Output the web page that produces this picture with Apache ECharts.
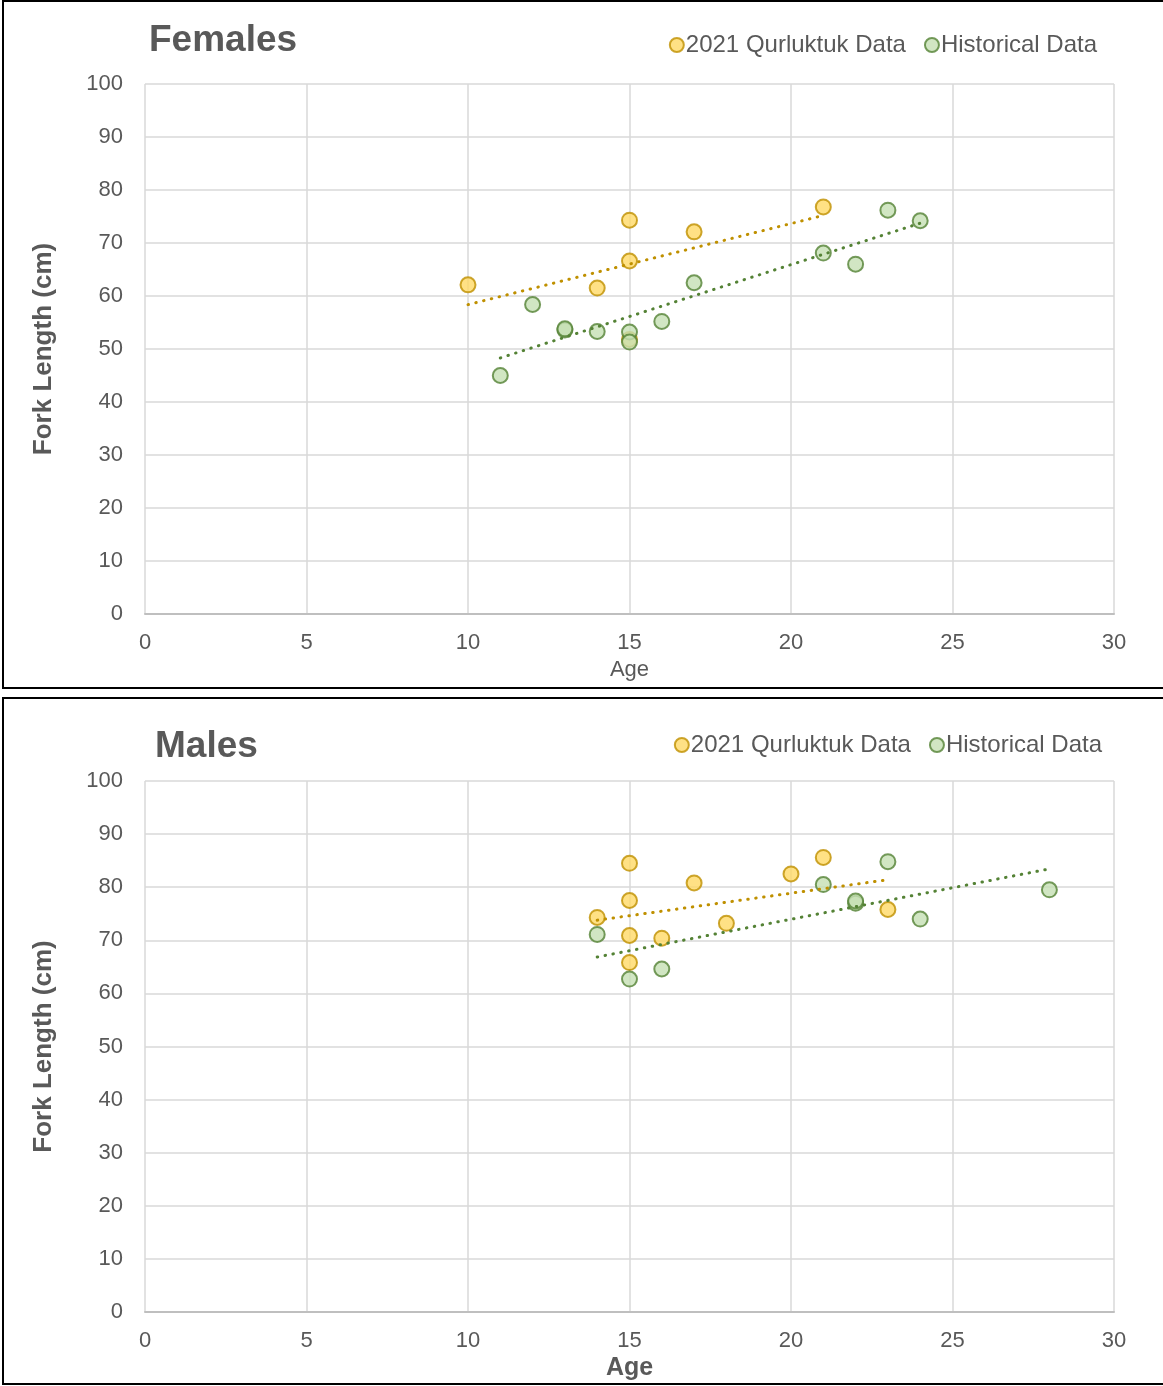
<!DOCTYPE html>
<html>
<head>
<meta charset="utf-8">
<script src="https://cdn.jsdelivr.net/npm/echarts@6/dist/echarts.min.js"></script>
<style>
  html, body { margin: 0; padding: 0; background: #fff; }
  #main { width: 1163px; height: 1386px; }
</style>
</head>
<body>
<div id="main"></div>
<script>
// Females
const femQurAge = [10, 14, 15, 15, 15, 17, 21]
const femQurLen = [62.1, 61.5, 74.3, 66.6, 51.8, 72.1, 76.8]
const femHistAge = [11, 12, 13, 13, 14, 15, 15, 16, 17, 21, 22, 23, 24]
const femHistLen = [45.0, 58.4, 53.6, 53.8, 53.3, 53.2, 51.3, 55.2, 62.5, 68.1, 66.0, 76.2, 74.2]
// Males
const maleQurAge = [14, 15, 15, 15, 15, 16, 17, 18, 20, 21, 23]
const maleQurLen = [74.3, 84.5, 77.5, 70.9, 65.8, 70.4, 80.8, 73.2, 82.5, 85.6, 75.8]
const maleHistAge = [14, 15, 16, 21, 22, 22, 23, 24, 28]
const maleHistLen = [71.1, 62.7, 64.6, 80.5, 77.0, 77.4, 84.8, 74.0, 79.5]

const ageTicks = [0, 5, 10, 15, 20, 25, 30]
const lenTicks = [0, 10, 20, 30, 40, 50, 60, 70, 80, 90, 100]

const QUR = '2021 Qurluktuk Data'
const HIST = 'Historical Data'
const TXT = '#595959'
const FONT = 'Liberation Sans'

const pairs = (xs, ys) => xs.map((x, i) => [x, ys[i]])

// linear least-squares trendline, spanning the series' age range
const trend = (xs, ys) => {
  const n = xs.length
  const mx = xs.reduce((a, b) => a + b, 0) / n
  const my = ys.reduce((a, b) => a + b, 0) / n
  let sxy = 0, sxx = 0
  xs.forEach((x, i) => { sxy += (x - mx) * (ys[i] - my); sxx += (x - mx) * (x - mx) })
  const b = sxy / sxx
  const a = my - b * mx
  const x0 = Math.min(...xs), x1 = Math.max(...xs)
  return [[x0, a + b * x0], [x1, a + b * x1]]
}

const qurStyle = { color: '#FFD966', borderColor: '#BF9000', borderWidth: 2 }
const histStyle = { color: '#C5E0B4', borderColor: '#548235', borderWidth: 2 }

const scatter = (name, idx, data, style) => ({
  name, type: 'scatter', xAxisIndex: idx, yAxisIndex: idx,
  data, symbolSize: 15, itemStyle: style, z: 3, silent: true
})
const trendLine = (name, idx, data, color) => ({
  name, type: 'line', xAxisIndex: idx, yAxisIndex: idx,
  data, showSymbol: false, symbol: 'none', z: 4, silent: true,
  lineStyle: { color, width: 3, type: [0.5, 7.5], cap: 'round' }
})

const xAxis = (idx, nameSize, bold, gap) => ({
  type: 'value', gridIndex: idx, min: 0, max: 30, interval: 5,
  name: 'Age', nameLocation: 'middle', nameGap: gap,
  nameTextStyle: { color: TXT, fontSize: nameSize, fontWeight: bold ? 'bold' : 'normal', fontFamily: FONT },
  axisLine: { show: true, lineStyle: { color: '#BFBFBF', width: 2 } },
  axisTick: { show: false },
  axisLabel: { color: TXT, fontSize: 22, margin: 18, fontFamily: FONT },
  splitLine: { show: true, lineStyle: { color: '#D9D9D9', width: 1.5 } }
})
const yAxis = (idx) => ({
  type: 'value', gridIndex: idx, min: 0, max: 100, interval: 10,
  name: 'Fork Length (cm)', nameLocation: 'middle', nameGap: 88,
  nameTextStyle: { color: TXT, fontSize: 26, fontWeight: 'bold', fontFamily: FONT },
  axisLine: { show: false }, axisTick: { show: false },
  axisLabel: { color: TXT, fontSize: 22, margin: 22, fontFamily: FONT },
  splitLine: { show: true, lineStyle: { color: '#D9D9D9', width: 1.5 } }
})
const legend = (right, top) => ({
  data: [QUR, HIST], right, top, padding: 0, itemWidth: 14, itemHeight: 14, itemGap: 18, icon: 'circle',
  textStyle: { color: TXT, fontSize: 24, fontFamily: FONT, padding: [0, 0, 0, -3] }, selectedMode: false
})

const chart = echarts.init(document.getElementById('main'))
chart.setOption({
  animation: false,
  backgroundColor: '#fff',
  textStyle: { fontFamily: FONT },
  title: [
    { text: 'Females', left: 144, top: 17, textStyle: { color: TXT, fontSize: 37, fontWeight: 'bold', fontFamily: FONT } },
    { text: 'Males', left: 150, top: 723, textStyle: { color: TXT, fontSize: 37, fontWeight: 'bold', fontFamily: FONT } }
  ],
  legend: [legend(66, 33), legend(61, 733)],
  grid: [
    { left: 145, top: 84, width: 969, height: 530 },
    { left: 145, top: 781, width: 969, height: 531 }
  ],
  xAxis: [xAxis(0, 22, false, 45), xAxis(1, 25, true, 44)],
  yAxis: [yAxis(0), yAxis(1)],
  graphic: [
    { type: 'rect', shape: { x: 3, y: 1, width: 1200, height: 687 }, style: { fill: null, stroke: '#000', lineWidth: 2 }, silent: true },
    { type: 'rect', shape: { x: 3, y: 698, width: 1200, height: 686 }, style: { fill: null, stroke: '#000', lineWidth: 2 }, silent: true }
  ],
  series: [
    scatter(QUR, 0, pairs(femQurAge, femQurLen), qurStyle),
    scatter(HIST, 0, pairs(femHistAge, femHistLen), histStyle),
    trendLine('femQurTrend', 0, trend(femQurAge, femQurLen), '#BF9000'),
    trendLine('femHistTrend', 0, trend(femHistAge, femHistLen), '#548235'),
    scatter(QUR, 1, pairs(maleQurAge, maleQurLen), qurStyle),
    scatter(HIST, 1, pairs(maleHistAge, maleHistLen), histStyle),
    trendLine('maleQurTrend', 1, trend(maleQurAge, maleQurLen), '#BF9000'),
    trendLine('maleHistTrend', 1, trend(maleHistAge, maleHistLen), '#548235')
  ]
})
</script>
</body>
</html>
